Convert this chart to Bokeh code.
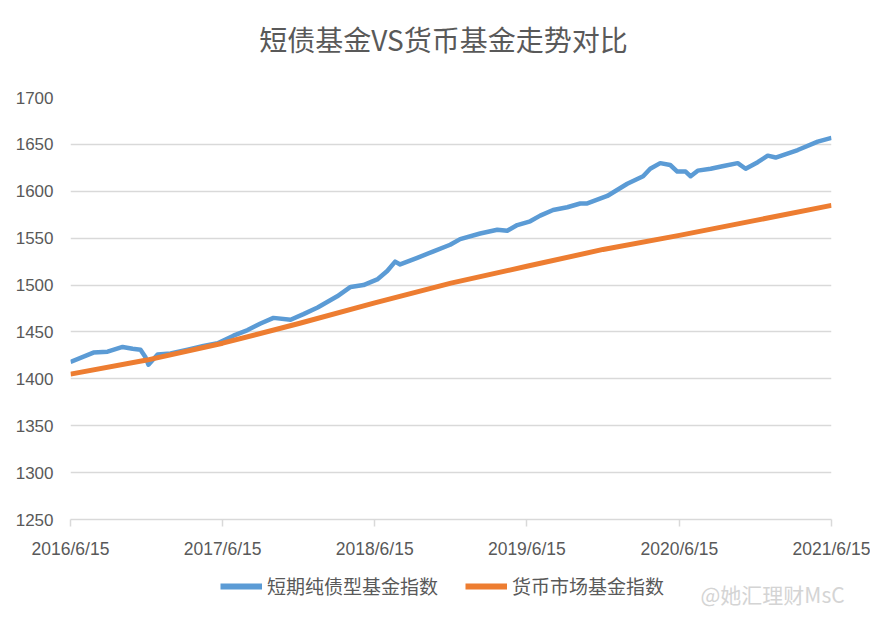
import pandas as pd
from bokeh.plotting import figure
from bokeh.layouts import column
from bokeh.models import (FixedTicker, CustomJSTickFormatter, Legend, LegendItem,
                          Range1d, Label, ColumnDataSource)
from bokeh.embed import file_html
from bokeh.resources import INLINE

title_text = "短债基金VS货币基金走势对比"
blue_name = "短期纯债型基金指数"
orange_name = "货币市场基金指数"
watermark = "@她汇理财MsC"

blue_dates = ["2016-06-15", "2016-08-09", "2016-09-12", "2016-10-18", "2016-11-11", "2016-11-30",
              "2016-12-12", "2016-12-19", "2017-01-10", "2017-02-10", "2017-03-23", "2017-04-30",
              "2017-06-03", "2017-07-11", "2017-08-14", "2017-09-14", "2017-10-15", "2017-11-25",
              "2017-12-26", "2018-01-29", "2018-03-17", "2018-04-18", "2018-05-19", "2018-06-21",
              "2018-07-15", "2018-08-03", "2018-08-15", "2018-09-25", "2018-11-03", "2018-12-13",
              "2019-01-06", "2019-02-23", "2019-04-05", "2019-04-29", "2019-05-23", "2019-06-23",
              "2019-07-17", "2019-08-17", "2019-09-20", "2019-10-21", "2019-11-07", "2019-12-25",
              "2020-02-11", "2020-03-20", "2020-04-06", "2020-04-30", "2020-05-24", "2020-06-10",
              "2020-06-30", "2020-07-12", "2020-07-29", "2020-08-29", "2020-09-29", "2020-11-02",
              "2020-11-21", "2020-12-20", "2021-01-13", "2021-02-01", "2021-03-26", "2021-05-13",
              "2021-06-15"]
blue_vals = [1418, 1428, 1429, 1434, 1432, 1431, 1423, 1415, 1426, 1427, 1431, 1435,
             1438, 1446, 1452, 1459, 1465, 1463, 1469, 1476, 1488, 1498, 1500, 1506,
             1515, 1525, 1522, 1529, 1536, 1543, 1549, 1555, 1559, 1558, 1564, 1568,
             1574, 1580, 1583, 1587, 1587, 1595, 1608, 1616, 1624, 1630, 1628, 1621,
             1621, 1616, 1622, 1624, 1627, 1630, 1624, 1631, 1638, 1636, 1644, 1653,
             1657]

orange_dates = ["2016-06-15", "2016-12-15", "2017-06-15", "2017-12-15", "2018-06-15", "2018-12-15",
                "2019-06-15", "2019-12-15", "2020-06-15", "2020-12-15", "2021-06-15"]
orange_vals = [1405, 1420, 1438, 1459, 1481, 1502, 1520, 1538, 1553, 1569, 1585]

tick_dates = ["2016-06-15", "2017-06-15", "2018-06-15", "2019-06-15", "2020-06-15", "2021-06-15"]
y_ticks = [1250, 1300, 1350, 1400, 1450, 1500, 1550, 1600, 1650, 1700]

BLUE = "#5B9BD5"
ORANGE = "#ED7D31"
TEXT = "#595959"
GRID = "#d9d9d9"

blue_src = ColumnDataSource(dict(x=pd.to_datetime(blue_dates), y=blue_vals))
orange_src = ColumnDataSource(dict(x=pd.to_datetime(orange_dates), y=orange_vals))

tick_ms = [pd.Timestamp(d).value // 10**6 for d in tick_dates]


def strip(height):
    s = figure(width=870, height=height, output_backend="svg", toolbar_location=None,
               x_range=Range1d(0, 870), y_range=Range1d(0, height),
               x_axis_location=None, y_axis_location=None,
               min_border=0, outline_line_color=None)
    s.frame_align = False
    s.grid.visible = False
    return s


# title strip
p0 = strip(60)
p0.add_layout(Label(x=443, y=22, text=title_text, text_font="Noto Sans CJK SC",
                    text_font_size="28px", text_color=TEXT,
                    text_align="center", text_baseline="middle"))

# main chart
p = figure(width=870, height=501, x_axis_type="datetime", output_backend="svg",
           toolbar_location=None,
           min_border_left=70, min_border_right=39, min_border_top=37, min_border_bottom=40)
p.x_range = Range1d(pd.Timestamp(tick_dates[0]), pd.Timestamp(tick_dates[-1]))
p.y_range = Range1d(y_ticks[0], y_ticks[-1])
p.outline_line_color = None
p.background_fill_color = "white"
p.border_fill_color = "white"

p.line("x", "y", source=blue_src, line_color=BLUE, line_width=4.5, line_join="round")
p.line("x", "y", source=orange_src, line_color=ORANGE, line_width=5, line_join="round")

p.xgrid.grid_line_color = None
p.ygrid.grid_line_color = GRID
p.ygrid.grid_line_width = 1.5

xa = p.xaxis[0]
xa.ticker = FixedTicker(ticks=tick_ms)
xa.formatter = CustomJSTickFormatter(code="""
const d = new Date(tick);
return d.getUTCFullYear() + "/" + (d.getUTCMonth() + 1) + "/" + d.getUTCDate();
""")
xa.axis_line_color = GRID
xa.axis_line_width = 1.5
xa.major_tick_line_color = GRID
xa.major_tick_line_width = 1.5
xa.major_tick_out = 7
xa.major_tick_in = 0
xa.minor_tick_line_color = None
xa.major_label_standoff = 12
xa.major_label_text_font = "Liberation Sans"
xa.major_label_text_font_size = "17.5px"
xa.major_label_text_color = TEXT

ya = p.yaxis[0]
ya.ticker = FixedTicker(ticks=y_ticks)
ya.axis_line_color = None
ya.major_tick_line_color = None
ya.minor_tick_line_color = None
ya.major_tick_out = 0
ya.major_tick_in = 0
ya.major_label_standoff = 17
ya.major_label_text_font = "Liberation Sans"
ya.major_label_text_font_size = "17px"
ya.major_label_text_color = TEXT

# legend strip below the chart
p2 = strip(49)
# legend proxies: the same series, drawn far outside this strip's visible range
lb = p2.line("x", "y", source=blue_src, line_color=BLUE, line_width=6)
lo = p2.line("x", "y", source=orange_src, line_color=ORANGE, line_width=6)
legend = Legend(items=[LegendItem(label=blue_name, renderers=[lb]),
                       LegendItem(label=orange_name, renderers=[lo])],
                orientation="horizontal", location=(220, 11),
                label_text_font="Noto Sans CJK SC", label_text_font_size="19px",
                label_text_color=TEXT, glyph_width=42, glyph_height=22,
                spacing=27, label_standoff=5, border_line_color=None,
                background_fill_alpha=0, padding=2, margin=0)
p2.add_layout(legend, "center")

p2.add_layout(Label(x=700, y=17, text=watermark,
                    text_font="Noto Sans CJK SC", text_font_size="21px",
                    text_color="#d4d4d4", text_baseline="middle", text_align="left"))

layout = column(p0, p, p2, spacing=0)
open("out.html", "w").write(file_html(layout, INLINE))
